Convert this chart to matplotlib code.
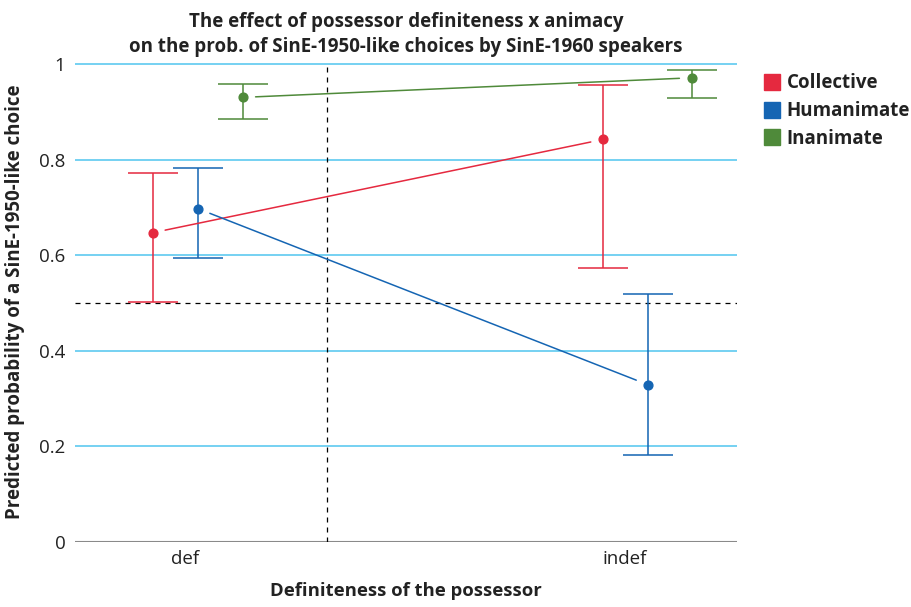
import matplotlib.pyplot as plt
from matplotlib.lines import Line2D

plt.rcParams['font.family'] = ['Open Sans', 'DejaVu Sans']

categories = ['def', 'indef']
groups = ['Collective', 'Humanimate', 'Inanimate']
colors = ['#e5293f', '#1565b3', '#4f8a3a']

# predicted probabilities and interval bounds, per group: [def, indef]
fit = {
    'Collective': [0.647, 0.842],
    'Humanimate': [0.697, 0.329],
    'Inanimate': [0.930, 0.971],
}
lower = {
    'Collective': [0.501, 0.573],
    'Humanimate': [0.593, 0.182],
    'Inanimate': [0.884, 0.929],
}
upper = {
    'Collective': [0.772, 0.956],
    'Humanimate': [0.783, 0.518],
    'Inanimate': [0.958, 0.988],
}

# dodge offsets per category
dodge = {
    'Collective': [-0.073, -0.05],
    'Humanimate': [0.03, 0.052],
    'Inanimate': [0.132, 0.152],
}

fig = plt.figure(figsize=(9.11, 6.07), dpi=100)
ax = fig.add_axes([75 / 911, 65 / 607, 662 / 911, 480 / 607])

for y in [0.2, 0.4, 0.6, 0.8, 1.0]:
    ax.axhline(y, color='#5ec9f0', lw=1.2, zorder=1)
ax.axhline(0, color='#8a8a8a', lw=1.5, zorder=1)
ax.axhline(0.5, color='black', lw=0.9, ls=(0, (4, 4)), zorder=2)
ax.plot([0.3227, 0.3227], [0, 1], color='black', lw=0.9, ls=(0, (4, 4)), zorder=2)

for g, c in zip(groups, colors):
    xs = [i + d for i, d in enumerate(dodge[g])]
    ys = fit[g]
    err = [[m - lo for m, lo in zip(ys, lower[g])],
           [hi - m for m, hi in zip(ys, upper[g])]]
    ax.errorbar(xs, ys, yerr=err, fmt='none', ecolor=c, elinewidth=1.3,
                capsize=18, capthick=1.3, alpha=0.85, zorder=3)
    ax.scatter(xs, ys, s=40, color=c, zorder=5)
    ax.annotate('', xy=(xs[1], ys[1]), xytext=(xs[0], ys[0]),
                arrowprops=dict(arrowstyle='-', color=c, lw=1.1,
                                shrinkA=9, shrinkB=9), zorder=4)

ax.set_xlim(-0.25, 1.2545)
ax.set_ylim(0, 1.004)
ax.set_xticks([0, 1])
ax.set_xticklabels(categories)
ax.set_yticks([0, 0.2, 0.4, 0.6, 0.8, 1.0])
ax.set_yticklabels(['0', '0.2', '0.4', '0.6', '0.8', '1'])
ax.tick_params(length=0, labelsize=13.5, colors='#222222')
ax.tick_params(axis='x', pad=6)
ax.tick_params(axis='y', pad=7)
for s in ax.spines.values():
    s.set_visible(False)

ax.set_xlabel('Definiteness of the possessor', fontsize=13.3, fontweight='bold',
              color='#222222', labelpad=10)
ax.set_ylabel('Predicted probability of a SinE-1950-like choice', fontsize=13.5,
              fontweight='bold', color='#222222', labelpad=10)
ax.set_title('The effect of possessor definiteness x animacy\n'
             'on the prob. of SinE-1950-like choices by SinE-1960 speakers',
             fontsize=13.5, fontweight='bold', color='#222222', pad=7,
             linespacing=1.35)

handles = [Line2D([], [], ls='none', marker='s', markersize=12, color=c)
           for c in colors]
leg = ax.legend(handles, groups, loc='upper left', bbox_to_anchor=(1.02, 1.0),
                frameon=False, prop={'weight': 'bold', 'size': 13.5},
                handletextpad=0.25, labelspacing=0.42, borderaxespad=0.2,
                handlelength=1.1)
for t in leg.get_texts():
    t.set_color('#222222')

fig.savefig('out.png', dpi=100)
